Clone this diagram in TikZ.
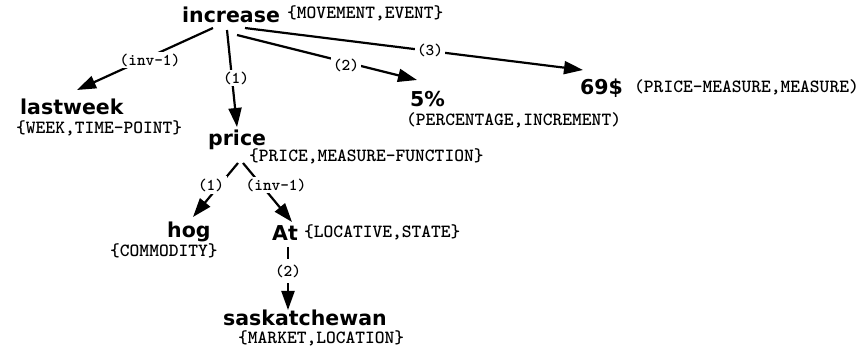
\documentclass[tikz,border=0pt]{standalone}
\usepackage{fontspec}
\newfontfamily\wordfont{DejaVu Sans}
\usetikzlibrary{arrows.meta}
\begin{document}
\begin{tikzpicture}[x=1pt,y=-1pt,
  word/.style={anchor=base west, inner sep=0pt, font=\wordfont\bfseries\fontsize{20.5}{24}\selectfont},
  cls/.style={anchor=base west, inner sep=0pt, font=\ttfamily\bfseries\fontsize{18.6}{20}\selectfont},
  elab/.style={fill=white, inner sep=2pt, font=\ttfamily\bfseries\fontsize{16.5}{18}\selectfont},
  arr/.style={line width=2.2pt, -{Triangle[length=19pt,width=13pt]}},
]
\fill[white] (0,0) rectangle (862,355);
\useasboundingbox (0,0) rectangle (862,355);

% concept nodes
\node[word] (inc) at (182,23) {increase};
\node[word] (lw) at (20,115) {lastweek};
\node[word] (price) at (208,146) {price};
\node[word] (pct) at (410,107) {5\%};
\node[word] (dol) at (580,95) {69\$};
\node[word] (hog) at (167,238) {hog};
\node[word] (at) at (272,241) {At};
\node[word] (sask) at (223,325) {saskatchewan};

% class labels
\node[cls] (cinc) at (287,19) {\{MOVEMENT,EVENT\}};
\node[cls] (clw) at (16,134) {\{WEEK,TIME-POINT\}};
\node[cls] (cprice) at (249,162) {\{PRICE,MEASURE-FUNCTION\}};
\node[cls] (cpct) at (406,126) {(PERCENTAGE,INCREMENT)};
\node[cls] (cdol) at (634,93) {(PRICE-MEASURE,MEASURE)};
\node[cls] (chog) at (110,257) {\{COMMODITY\}};
\node[cls] (cat) at (304,238) {\{LOCATIVE,STATE\}};
\node[cls] (csask) at (238,343) {\{MARKET,LOCATION\}};

% connectors
\draw[arr] ([shift={(31,5)}]inc.base west) -- ([shift={(57,-25)}]lw.base west);
\draw[arr] ([shift={(45,7)}]inc.base west) -- ([shift={(29,-19)}]price.base west);
\draw[arr] ([shift={(55,12)}]inc.base west) -- ([shift={(7,-27)}]pct.base west);
\draw[arr] ([shift={(63,5)}]inc.base west) -- ([shift={(3,-25)}]dol.base west);
\draw[arr] ([shift={(30,17)}]price.base west) -- ([shift={(26,-21)}]hog.base west);
\draw[arr] ([shift={(35,17)}]price.base west) -- ([shift={(20,-19)}]at.base west);
\draw[arr] ([shift={(16,6)}]at.base west) -- ([shift={(65,-15)}]sask.base west);

% connector labels
\node[elab] (e1) at (150,60) {(inv-1)};
\node[elab] (e2) at (236,78) {(1)};
\node[elab] (e3) at (346,65) {(2)};
\node[elab] (e4) at (430,50) {(3)};
\node[elab, inner sep=3pt] (e5) at (211,185) {(1)};
\node[elab] (e6) at (276,185) {(inv-1)};
\node[elab, inner ysep=6pt] (e7) at (288,271) {(2)};
\end{tikzpicture}
\end{document}
